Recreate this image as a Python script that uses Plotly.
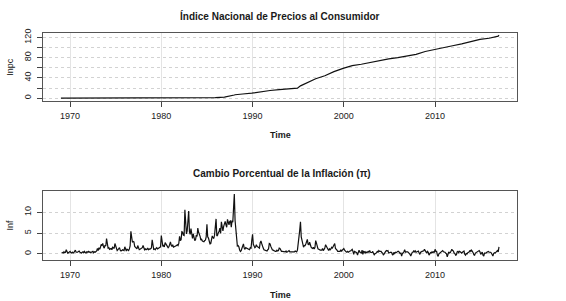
import plotly.graph_objects as go

# ---------------- data ----------------
# INPC (index) at selected months
inpc_year = [1969, 1969, 1970, 1971, 1972, 1973, 1974, 1975, 1976, 1977, 1978, 1979, 1980,
             1981, 1982, 1983, 1984, 1985, 1986, 1987, 1987, 1987, 1988, 1988, 1988, 1988,
             1989, 1990, 1991, 1992, 1993, 1994, 1995, 1995, 1996, 1997, 1998, 1999, 2000,
             2001, 2002, 2003, 2004, 2005, 2006, 2007, 2008, 2009, 2010, 2011, 2012, 2013,
             2014, 2015, 2016, 2017]
inpc_month = [1, 12, 12, 12, 12, 12, 12, 12, 12, 12, 12, 12, 12,
              12, 12, 12, 12, 12, 12, 6, 11, 12, 1, 2, 6, 12,
              12, 12, 12, 12, 12, 12, 4, 12, 12, 12, 12, 12, 12,
              12, 12, 12, 12, 12, 12, 12, 12, 12, 12, 12, 12, 12,
              12, 12, 12, 1]
inpc_value = [0.0157, 0.0161, 0.0169, 0.0177, 0.0187, 0.0227, 0.0274, 0.0305, 0.0388, 0.0468,
              0.0543, 0.0652, 0.0847, 0.109, 0.217, 0.392, 0.624, 1.02, 2.10, 3.35, 4.74, 5.44,
              6.28, 6.80, 7.65, 8.24, 9.87, 12.8, 15.2, 17.1, 18.4, 19.7, 24.4, 30.0, 38.3,
              44.3, 52.5, 59.0, 64.3, 67.1, 70.9, 73.8, 77.6, 80.2, 83.4, 86.6, 92.2, 95.5,
              99.7, 103.6, 107.2, 111.5, 116.1, 118.5, 122.5, 124.6]

# Monthly inflation (%), Feb 1969 .. Jan 2017
inf_start_year = 1969
inf_start_month = 2
inf_values = [
    0.4, 0.3, 0.2, 0.5, 0.3, 0.4, 1.0, 0.6, 0.2, 0.3, 0.5,            # 1969
    0.6, 0.3, 0.2, 0.4, 0.2, 0.3, 0.5, 0.9, 0.4, 0.3, 0.4, 0.6,       # 1970
    0.7, 0.4, 0.3, 0.2, 0.4, 0.5, 0.3, 0.6, 0.3, 0.2, 0.5, 0.4,       # 1971
    0.6, 0.4, 0.5, 0.3, 0.4, 0.5, 0.6, 0.3, 0.5, 0.4, 0.6, 0.7,       # 1972
    1.3, 0.8, 1.5, 1.1, 1.6, 2.3, 2.0, 2.5, 1.7, 1.4, 2.1, 1.9,       # 1973
    3.7, 2.4, 1.4, 1.5, 1.1, 1.2, 1.3, 1.0, 1.6, 1.5, 1.3, 2.5,       # 1974
    1.7, 0.9, 0.8, 1.0, 1.2, 1.5, 0.9, 0.7, 0.8, 1.0, 0.9, 0.8,       # 1975
    1.7, 1.0, 0.7, 1.1, 0.9, 0.8, 1.2, 1.9, 5.4, 3.4, 2.8, 3.0,       # 1976
    2.9, 1.8, 1.5, 1.4, 1.2, 2.0, 1.3, 1.0, 1.1, 1.2, 1.3, 1.5,       # 1977
    2.0, 1.3, 1.0, 1.2, 1.0, 1.1, 1.4, 1.0, 1.2, 1.1, 1.3, 1.4,       # 1978
    3.4, 1.4, 1.1, 1.2, 1.0, 1.3, 1.5, 1.2, 1.3, 1.5, 1.6, 1.7,       # 1979
    4.4, 2.2, 1.8, 2.0, 1.7, 2.7, 2.4, 1.8, 1.6, 1.5, 1.7, 2.1,       # 1980
    2.9, 2.1, 1.8, 2.2, 1.6, 1.7, 1.8, 1.7, 2.0, 2.2, 2.0, 2.5,       # 1981
    4.2, 3.2, 3.4, 5.3, 5.2, 4.5, 4.4, 10.6, 5.2, 4.8, 5.5, 10.2,     # 1982
    10.3, 5.3, 4.7, 6.1, 4.1, 3.7, 4.8, 3.8, 3.2, 3.4, 4.5, 4.2,      # 1983
    6.2, 5.2, 4.2, 4.2, 3.3, 3.5, 3.1, 2.9, 2.9, 3.2, 3.3, 4.1,       # 1984
    7.1, 4.1, 3.8, 3.1, 2.4, 2.5, 3.4, 4.3, 3.9, 3.7, 4.5, 6.6,       # 1985
    8.4, 4.3, 4.5, 5.1, 5.4, 6.2, 4.9, 7.7, 5.8, 5.5, 6.6, 7.6,       # 1986
    7.8, 7.0, 6.4, 8.3, 7.2, 7.0, 7.8, 7.9, 6.4, 8.0, 7.6, 13.8,      # 1987
    14.4, 8.0, 5.0, 3.1, 1.9, 2.0, 1.7, 0.9, 0.6, 0.8, 1.3, 2.1,      # 1988
    2.4, 1.4, 1.1, 1.5, 1.4, 1.2, 1.0, 1.0, 1.0, 1.5, 1.4, 3.3,       # 1989
    4.7, 2.3, 1.8, 1.5, 1.7, 2.2, 1.8, 1.7, 1.4, 1.4, 2.7, 3.1,       # 1990
    2.5, 1.7, 1.4, 1.0, 0.9, 1.0, 0.9, 0.7, 1.0, 1.2, 2.5, 2.4,       # 1991
    1.8, 1.2, 1.0, 0.9, 0.7, 0.7, 0.6, 0.6, 0.9, 0.7, 0.8, 1.4,       # 1992
    1.3, 0.8, 0.6, 0.6, 0.6, 0.6, 0.5, 0.5, 0.7, 0.4, 0.5, 0.8,       # 1993
    0.8, 0.5, 0.5, 0.5, 0.5, 0.5, 0.4, 0.5, 0.7, 0.5, 0.5, 0.9,       # 1994
    3.7, 4.1, 5.7, 7.7, 4.1, 3.1, 2.0, 1.6, 2.0, 2.0, 2.4, 3.2,       # 1995
    3.5, 2.3, 2.2, 2.8, 1.8, 1.6, 1.4, 1.3, 1.6, 1.2, 1.5, 3.2,       # 1996
    2.6, 1.7, 1.2, 1.1, 0.9, 0.9, 0.9, 0.9, 1.3, 0.8, 1.1, 1.4,       # 1997
    2.2, 1.8, 1.2, 1.0, 0.8, 1.2, 1.0, 1.2, 1.6, 1.4, 1.8, 2.4,       # 1998
    2.5, 1.3, 0.9, 0.9, 0.6, 0.6, 0.7, 0.6, 1.0, 0.6, 0.9, 1.0,       # 1999
    1.3, 0.9, 0.6, 0.5, 0.4, 0.6, 0.4, 0.6, 0.7, 0.7, 0.8, 1.1,       # 2000
    0.6, -0.1, 0.6, 0.5, 0.2, 0.3, -0.3, 0.6, 0.9, 0.4, 0.4, 0.1,     # 2001
    0.9, -0.1, 0.6, 0.5, 0.2, 0.5, 0.3, 0.4, 0.6, 0.4, 0.8, 0.4,      # 2002
    0.4, 0.3, 0.6, 0.2, -0.3, 0.1, 0.1, 0.3, 0.6, 0.4, 0.8, 0.6,      # 2003
    0.6, 0.6, 0.3, 0.2, -0.3, 0.2, 0.3, 0.6, 0.8, 0.7, 0.8, 0.2,      # 2004
    0.3, 0.3, 0.4, 0.3, -0.3, -0.1, 0.4, 0.1, 0.4, 0.3, 0.5, 0.6,     # 2005
    0.6, 0.2, 0.1, 0.2, -0.5, 0.1, 0.3, 0.5, 1.0, 0.4, 0.5, 0.6,      # 2006
    0.5, 0.3, 0.2, -0.1, -0.5, 0.1, 0.4, 0.4, 0.8, 0.4, 0.7, 0.4,     # 2007
    0.5, 0.4, 0.7, 0.2, -0.1, 0.4, 0.6, 0.6, 0.7, 0.7, 1.1, 0.7,      # 2008
    0.2, 0.2, 0.6, 0.4, -0.3, 0.2, 0.3, 0.2, 0.5, 0.3, 0.5, 0.4,      # 2009
    1.1, 0.6, 0.6, -0.3, -0.6, 0.0, 0.2, 0.3, 0.5, 0.6, 0.8, 0.5,     # 2010
    0.5, 0.4, 0.2, 0.0, -0.7, 0.0, 0.5, 0.2, 0.3, 0.7, 1.1, 0.8,      # 2011
    0.7, 0.2, 0.1, -0.3, -0.2, 0.5, 0.6, 0.3, 0.6, 0.5, 0.4, 0.2,     # 2012
    0.4, 0.5, 0.7, -0.1, -0.3, 0.1, 0.0, 0.3, 0.4, 0.5, 0.9, 0.6,     # 2013
    0.9, 0.3, 0.3, -0.2, -0.3, 0.2, 0.3, 0.4, 0.4, 0.5, 0.8, 0.5,     # 2014
    -0.1, 0.2, 0.4, -0.3, -0.5, 0.2, 0.2, 0.2, 0.4, 0.5, 0.6, 0.4,    # 2015
    0.4, 0.4, 0.2, -0.3, -0.5, 0.1, 0.3, 0.2, 0.6, 0.6, 0.8, 0.5,     # 2016
    1.7,                                                              # 2017
]

x_ticks = [1970, 1980, 1990, 2000, 2010]
inpc_ticks = [0, 20, 40, 60, 80, 100, 120]
inpc_ticktext = ["0", "", "40", "", "80", "", "120"]
inf_ticks = [0, 5, 10]
inf_ticktext = ["0", "5", "10"]

title_top = "<b>Índice Nacional de Precios al Consumidor</b>"
title_bottom = "<b>Cambio Porcentual de la Inflación (π)</b>"

# ---------------- figure ----------------
W, H = 566, 301
FONT = "Liberation Sans, Arial, Helvetica, sans-serif"
TXT = "#1a1a1a"

inpc_x = [y + (m - 1) / 12 for y, m in zip(inpc_year, inpc_month)]
inf_x = [inf_start_year + (inf_start_month - 1 + i) / 12 for i in range(len(inf_values))]

fig = go.Figure()
fig.add_trace(go.Scatter(x=inpc_x, y=inpc_value, mode="lines",
                         line=dict(color="#111111", width=1.2), xaxis="x", yaxis="y",
                         hoverinfo="skip"))
fig.add_trace(go.Scatter(x=inf_x, y=inf_values, mode="lines",
                         line=dict(color="#111111", width=1.2), xaxis="x2", yaxis="y2",
                         hoverinfo="skip"))

def px_x(p):
    return p / W

def px_y(p):
    return 1 - p / H

xdom = [px_x(43.4), px_x(516.5)]
xcommon = dict(domain=xdom, range=[1967.08, 2018.92], tickmode="array", tickvals=x_ticks,
               ticks="outside", ticklen=5, tickcolor="#444444", showline=True, mirror=True,
               linecolor="#555555", linewidth=1, showgrid=True, gridcolor="#e4e4e4",
               gridwidth=1, zeroline=False, tickfont=dict(size=9, color=TXT, family=FONT),
               ticklabelstandoff=2)
ycommon = dict(ticks="outside", ticklen=5, tickcolor="#444444", showline=True, mirror=True,
               linecolor="#555555", linewidth=1, showgrid=True, gridcolor="#d2d2d2",
               griddash="dot", gridwidth=1, zeroline=False, tickangle=-90,
               tickfont=dict(size=9, color=TXT, family=FONT), ticklabelstandoff=3)

fig.update_layout(
    width=W, height=H, margin=dict(l=0, r=0, t=0, b=0),
    paper_bgcolor="white", plot_bgcolor="white", showlegend=False,
    font=dict(family=FONT, color=TXT),
    xaxis=dict(anchor="y", **xcommon),
    yaxis=dict(anchor="x", domain=[px_y(98), px_y(29)], range=[-4.97, 129.58],
               tickmode="array", tickvals=inpc_ticks, ticktext=inpc_ticktext, **ycommon),
    xaxis2=dict(anchor="y2", **xcommon),
    yaxis2=dict(anchor="x2", domain=[px_y(259), px_y(190)], range=[-1.36, 14.99],
                tickmode="array", tickvals=inf_ticks, ticktext=inf_ticktext, **ycommon),
)

def ann(text, x, y, size, angle=0):
    fig.add_annotation(text=text, x=px_x(x), y=px_y(y), xref="paper", yref="paper",
                       showarrow=False, xanchor="center", yanchor="middle", textangle=angle,
                       font=dict(size=size, color=TXT, family=FONT))

ann(title_top, 280, 12, 10)
ann(title_bottom, 282, 172, 10)
ann("<b>Time</b>", 280, 133, 9)
ann("<b>Time</b>", 280, 295, 9)
ann("Inpc", 10, 63.5, 9, -90)
ann("Inf", 10, 224.5, 9, -90)

fig.write_html("out.html", config={"displayModeBar": False},
               post_script="document.body.style.margin='0';document.body.style.overflow='hidden';")
